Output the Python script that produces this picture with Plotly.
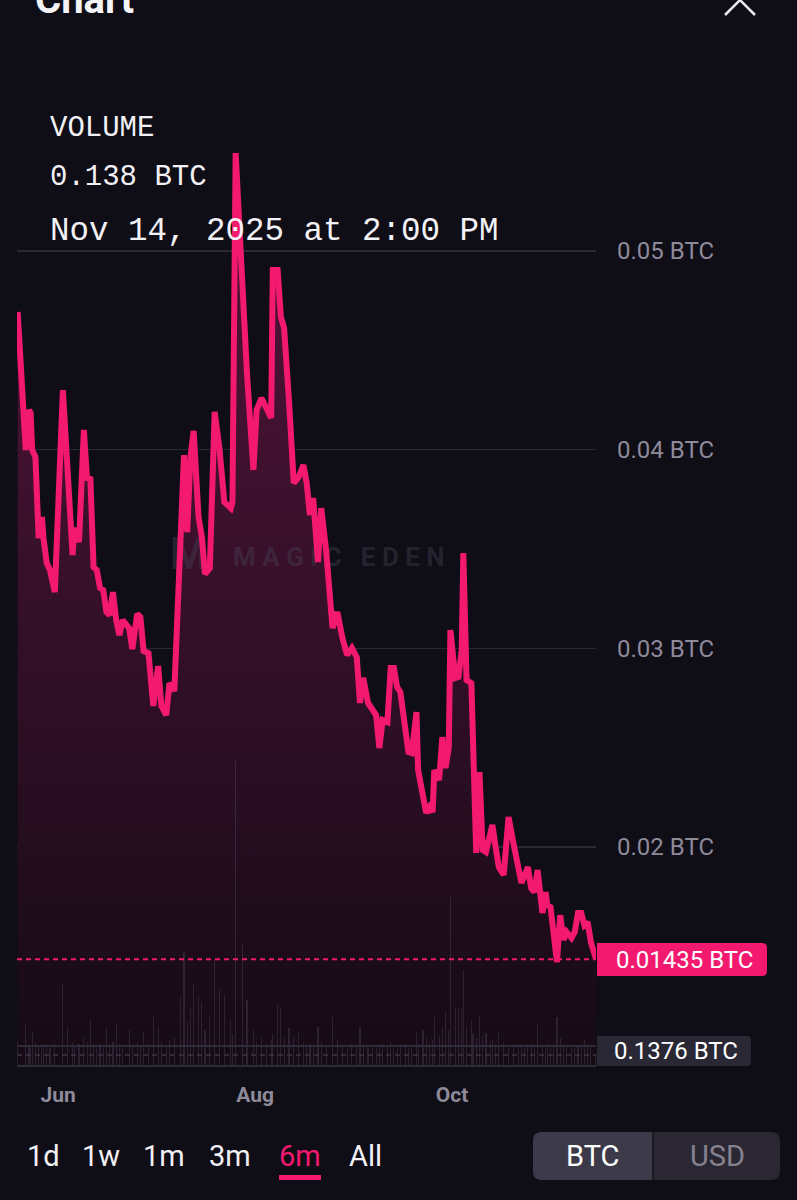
import plotly.graph_objects as go
import pandas as pd

# ---------------- data ----------------
dates = [
    "2025-05-19 12:00", "2025-05-22 00:00", "2025-05-23 00:00", "2025-05-23 12:00", "2025-05-24 00:00",
    "2025-05-25 00:00", "2025-05-26 00:00", "2025-05-27 00:00", "2025-05-27 12:00", "2025-05-28 12:00",
    "2025-05-29 12:00", "2025-05-31 00:00", "2025-06-02 12:00", "2025-06-04 00:00", "2025-06-05 12:00",
    "2025-06-06 00:00", "2025-06-07 12:00", "2025-06-09 00:00", "2025-06-10 00:00", "2025-06-11 00:00",
    "2025-06-12 00:00", "2025-06-13 00:00", "2025-06-14 00:00", "2025-06-15 00:00", "2025-06-16 00:00",
    "2025-06-17 00:00", "2025-06-18 00:00", "2025-06-19 00:00", "2025-06-20 00:00", "2025-06-21 00:00",
    "2025-06-23 00:00", "2025-06-24 00:00", "2025-06-25 12:00", "2025-06-26 12:00", "2025-06-27 12:00",
    "2025-06-29 00:00", "2025-06-30 12:00", "2025-07-02 00:00", "2025-07-03 00:00", "2025-07-04 12:00",
    "2025-07-05 12:00", "2025-07-07 00:00", "2025-07-09 00:00", "2025-07-10 00:00", "2025-07-11 00:00",
    "2025-07-12 00:00", "2025-07-13 00:00", "2025-07-14 12:00", "2025-07-15 12:00", "2025-07-16 12:00",
    "2025-07-18 00:00", "2025-07-19 12:00", "2025-07-21 00:00", "2025-07-22 12:00", "2025-07-24 12:00",
    "2025-07-25 00:00", "2025-07-26 00:00", "2025-07-28 00:00", "2025-07-29 12:00", "2025-07-31 12:00",
    "2025-08-01 12:00", "2025-08-03 00:00", "2025-08-04 12:00", "2025-08-06 00:00", "2025-08-06 12:00",
    "2025-08-08 00:00", "2025-08-09 00:00", "2025-08-10 00:00", "2025-08-11 12:00", "2025-08-13 00:00",
    "2025-08-14 12:00", "2025-08-16 00:00", "2025-08-17 00:00", "2025-08-18 00:00", "2025-08-19 00:00",
    "2025-08-20 12:00", "2025-08-21 12:00", "2025-08-23 00:00", "2025-08-25 00:00", "2025-08-26 12:00",
    "2025-08-28 00:00", "2025-08-29 12:00", "2025-08-31 00:00", "2025-09-01 12:00", "2025-09-02 12:00",
    "2025-09-03 12:00", "2025-09-05 00:00", "2025-09-06 12:00", "2025-09-07 12:00", "2025-09-08 12:00",
    "2025-09-09 12:00", "2025-09-11 00:00", "2025-09-12 00:00", "2025-09-13 00:00", "2025-09-14 00:00",
    "2025-09-15 00:00", "2025-09-16 12:00", "2025-09-17 12:00", "2025-09-18 12:00", "2025-09-20 00:00",
    "2025-09-20 12:00", "2025-09-22 00:00", "2025-09-23 00:00", "2025-09-24 00:00", "2025-09-25 00:00",
    "2025-09-25 12:00", "2025-09-27 00:00", "2025-09-28 00:00", "2025-09-29 00:00", "2025-09-30 00:00",
    "2025-09-30 12:00", "2025-10-02 00:00", "2025-10-03 00:00", "2025-10-04 00:00", "2025-10-04 12:00",
    "2025-10-05 12:00", "2025-10-07 00:00", "2025-10-07 12:00", "2025-10-08 12:00", "2025-10-09 12:00",
    "2025-10-10 12:00", "2025-10-11 12:00", "2025-10-13 00:00", "2025-10-13 12:00", "2025-10-14 12:00",
    "2025-10-15 12:00", "2025-10-17 00:00", "2025-10-18 12:00", "2025-10-20 00:00", "2025-10-21 12:00",
    "2025-10-22 12:00", "2025-10-23 12:00", "2025-10-24 12:00", "2025-10-25 12:00", "2025-10-26 12:00",
    "2025-10-27 12:00", "2025-10-29 00:00", "2025-10-30 00:00", "2025-10-30 12:00", "2025-10-31 12:00",
    "2025-11-01 12:00", "2025-11-02 12:00", "2025-11-03 12:00", "2025-11-04 12:00", "2025-11-05 12:00",
    "2025-11-07 00:00", "2025-11-08 00:00", "2025-11-09 00:00", "2025-11-10 00:00", "2025-11-11 00:00",
    "2025-11-12 00:00", "2025-11-13 00:00", "2025-11-14 14:00",
]

floor_btc = [
    0.04693, 0.03998, 0.04200, 0.04184, 0.03998, 0.03963, 0.03555, 0.03661, 0.03555, 0.03429,
    0.03394, 0.03283, 0.04300, 0.03837, 0.03470, 0.03606, 0.03535, 0.04099, 0.03847, 0.03862,
    0.03409, 0.03394, 0.03304, 0.03293, 0.03183, 0.03168, 0.03283, 0.03142, 0.03067, 0.03142,
    0.03102, 0.02996, 0.03173, 0.03158, 0.02986, 0.02976, 0.02710, 0.02911, 0.02710, 0.02664,
    0.02825, 0.02785, 0.03585, 0.03973, 0.03585, 0.03963, 0.04094, 0.03661, 0.03565, 0.03374,
    0.03404, 0.04190, 0.04003, 0.03736, 0.03706, 0.03736, 0.05493, 0.04839, 0.04386, 0.03898,
    0.04200, 0.04260, 0.04200, 0.04159, 0.04904, 0.04904, 0.04668, 0.04612, 0.04250, 0.03832,
    0.03862, 0.03923, 0.03832, 0.03671, 0.03757, 0.03434, 0.03706, 0.03495, 0.03102, 0.03183,
    0.03057, 0.02966, 0.03002, 0.02956, 0.02725, 0.02851, 0.02725, 0.02679, 0.02664, 0.02498,
    0.02639, 0.02629, 0.02901, 0.02901, 0.02805, 0.02780, 0.02574, 0.02478, 0.02473, 0.02679,
    0.02387, 0.02272, 0.02171, 0.02201, 0.02176, 0.02387, 0.02337, 0.02553, 0.02397, 0.02503,
    0.03092, 0.02851, 0.02856, 0.02991, 0.03480, 0.02840, 0.02825, 0.02538, 0.01970, 0.02377,
    0.01985, 0.01975, 0.02070, 0.02111, 0.02000, 0.01899, 0.01859, 0.02151, 0.02020, 0.01899,
    0.01819, 0.01859, 0.01899, 0.01793, 0.01773, 0.01884, 0.01668, 0.01773, 0.01708, 0.01698,
    0.01567, 0.01421, 0.01657, 0.01532, 0.01572, 0.01542, 0.01572, 0.01668, 0.01668, 0.01607,
    0.01622, 0.01521, 0.01435,
]

volume_btc = [
    0.30, 0.54, 0.25, 0.22, 0.41, 0.30, 0.24, 0.28, 0.22, 0.26,
    0.23, 0.27, 1.04, 0.49, 0.30, 0.25, 0.28, 0.35, 0.30, 0.58,
    0.26, 0.22, 0.28, 0.25, 0.49, 0.24, 0.30, 0.54, 0.27, 0.24,
    0.45, 0.26, 0.30, 0.25, 0.41, 0.28, 0.61, 0.49, 0.30, 0.26,
    0.33, 0.35, 0.86, 1.42, 0.55, 0.74, 1.01, 0.86, 0.80, 0.45,
    0.61, 1.33, 0.95, 0.89, 0.58, 0.40, 3.83, 1.54, 0.83, 0.45,
    0.30, 0.35, 0.28, 0.32, 0.40, 0.76, 0.72, 0.35, 0.48, 0.38,
    0.41, 0.30, 0.26, 0.28, 0.24, 0.49, 0.30, 0.26, 0.61, 0.33,
    0.25, 0.22, 0.27, 0.24, 0.49, 0.28, 0.23, 0.26, 0.22, 0.25,
    0.28, 0.24, 0.30, 0.26, 0.22, 0.25, 0.27, 0.23, 0.26, 0.41,
    0.28, 0.45, 0.35, 0.30, 0.33, 0.61, 0.38, 0.49, 0.68, 0.45,
    2.11, 0.74, 0.72, 0.72, 1.20, 0.50, 0.58, 0.40, 0.35, 0.64,
    0.38, 0.41, 0.30, 0.33, 0.28, 0.41, 0.30, 0.26, 0.28, 0.24,
    0.27, 0.23, 0.25, 0.28, 0.24, 0.54, 0.26, 0.23, 0.27, 0.22,
    0.25, 0.61, 0.35, 0.24, 0.22, 0.26, 0.23, 0.25, 0.22, 0.33,
    0.24, 0.22, 0.138,
]

y_ticks = [0.02, 0.03, 0.04, 0.05]
y_tick_labels = ["0.02 BTC", "0.03 BTC", "0.04 BTC", "0.05 BTC"]
x_ticks = ["2025-06-01", "2025-08-01", "2025-10-01"]
x_tick_labels = ["Jun", "Aug", "Oct"]
last_price = 0.01435
last_volume = 0.1376
header_volume = 0.138
header_time = "Nov 14, 2025 at 2:00 PM"
range_buttons = ["1d", "1w", "1m", "3m", "6m", "All"]
active_range = "6m"
currencies = ["BTC", "USD"]

# ---------------- layout constants ----------------
W, H = 797, 1200
L, R, T, B = 17, 596, 100, 1066
BG = "#0f0d16"
PINK = "#f2196f"
GRID = "#2a2835"
LABEL = "#8e8a9a"
WHITE = "#f2f1f5"

YMIN, YMAX = 0.008977, 0.05760
VMAX = (B - T) / 80.0
X0 = pd.Timestamp("2025-05-19 07:00")
X1 = pd.Timestamp(dates[-1])


def fx(px):
    return (px - L) / (R - L)


def fy(py):
    return (B - py) / (B - T)


def px2date(px):
    return str(X0 + (X1 - X0) * ((px - L) / (R - L)))


def py2val(py):
    return YMIN + (B - py) / (B - T) * (YMAX - YMIN)


def rrect(x0, y0, x1, y1, r, corners=("tl", "tr", "br", "bl")):
    def P(x, y):
        return f"{fx(x):.5f},{fy(y):.5f}"
    tl, tr, br, bl = [(c in corners) for c in ("tl", "tr", "br", "bl")]
    d = f"M {P(x0 + (r if tl else 0), y0)} L {P(x1 - (r if tr else 0), y0)} "
    if tr:
        d += f"Q {P(x1, y0)} {P(x1, y0 + r)} "
    d += f"L {P(x1, y1 - (r if br else 0))} "
    if br:
        d += f"Q {P(x1, y1)} {P(x1 - r, y1)} "
    d += f"L {P(x0 + (r if bl else 0), y1)} "
    if bl:
        d += f"Q {P(x0, y1)} {P(x0, y1 - r)} "
    d += f"L {P(x0, y0 + (r if tl else 0))} "
    if tl:
        d += f"Q {P(x0, y0)} {P(x0 + r, y0)} "
    return d + "Z"


fig = go.Figure()

# area fill
fig.add_trace(go.Scatter(
    x=dates, y=floor_btc, mode="lines", line=dict(width=0, color=PINK),
    fill="tozeroy",
    fillgradient=dict(type="vertical",
                      colorscale=[[0, "#150b15"], [1, "#55143c"]],
                      start=YMIN, stop=max(floor_btc)),
    hoverinfo="skip", showlegend=False,
))

# watermark (between fill and line)
WM = "rgba(72,70,88,0.38)"
fig.add_trace(go.Scatter(
    x=[px2date(233)], y=[py2val(559)], mode="text", text=["M A G I C   E D E N"],
    textposition="middle right",
    textfont=dict(family="Roboto", size=26, color=WM, weight="bold"),
    hoverinfo="skip", showlegend=False,
))
fig.add_trace(go.Scatter(
    x=[px2date(189)], y=[py2val(558)], mode="text", text=["M"],
    textposition="middle center",
    textfont=dict(family="Roboto", size=44, color=WM, weight="bold"),
    hoverinfo="skip", showlegend=False,
))

# price line
fig.add_trace(go.Scatter(
    x=dates, y=floor_btc, mode="lines",
    line=dict(color=PINK, width=6),
    hoverinfo="skip", showlegend=False,
))

# volume bars
fig.add_trace(go.Bar(
    x=dates, y=volume_btc, yaxis="y2",
    marker=dict(color="rgba(150,140,175,0.18)", line_width=0),
    width=0.35 * 86400000, hoverinfo="skip", showlegend=False,
))

shapes = [
    # current price dotted line
    dict(type="line", xref="paper", x0=0, x1=1, yref="y", y0=last_price, y1=last_price,
         line=dict(color=PINK, width=2, dash="5px,4px")),
    # volume pane lines
    dict(type="line", xref="paper", x0=0, x1=1, yref="paper", y0=fy(1046), y1=fy(1046),
         line=dict(color="#2e2b3a", width=2)),
    dict(type="line", xref="paper", x0=0, x1=1, yref="y2", y0=last_volume, y1=last_volume,
         line=dict(color="#3a3747", width=1.5, dash="5px,4px")),
    dict(type="line", xref="paper", x0=0, x1=1, yref="paper", y0=fy(1066), y1=fy(1066),
         line=dict(color="#2e2b3a", width=2)),
    # price badge
    dict(type="path", xref="paper", yref="paper", path=rrect(597, 943, 767, 976, 5, ("tr", "br")),
         fillcolor=PINK, line=dict(width=0)),
    # volume badge
    dict(type="path", xref="paper", yref="paper", path=rrect(597, 1036, 751, 1066, 4, ("tr", "br")),
         fillcolor="#2b2835", line=dict(width=0)),
    # currency toggle
    dict(type="path", xref="paper", yref="paper", path=rrect(533, 1132, 780, 1180, 9),
         fillcolor="#2a2733", line=dict(width=0)),
    dict(type="path", xref="paper", yref="paper", path=rrect(533, 1132, 652, 1180, 9, ("tl", "bl")),
         fillcolor="#3c3948", line=dict(width=0)),
    dict(type="line", xref="paper", yref="paper", x0=fx(653), x1=fx(653), y0=fy(1132), y1=fy(1180),
         line=dict(color="#1b1922", width=2)),
    # active range underline
    dict(type="rect", xref="paper", yref="paper", x0=fx(279), x1=fx(321), y0=fy(1175), y1=fy(1180),
         fillcolor=PINK, line=dict(width=0)),
    # close icon
    dict(type="line", xref="paper", yref="paper", x0=fx(725), y0=fy(-15), x1=fx(755), y1=fy(15),
         line=dict(color="#ececf0", width=2.5)),
    dict(type="line", xref="paper", yref="paper", x0=fx(755), y0=fy(-15), x1=fx(725), y1=fy(15),
         line=dict(color="#ececf0", width=2.5)),
]

ann = []


def text(px, py, s, size, color=WHITE, family="Roboto", anchor="left", weight="normal"):
    ann.append(dict(xref="paper", yref="paper", x=fx(px), y=fy(py), text=s, showarrow=False,
                    xanchor=anchor, yanchor="middle",
                    font=dict(family=family, size=size, color=color, weight=weight)))


text(33, -1, "Chart", 40, color="#f4f4f6", weight="bold")
text(48, 128, "VOLUME", 29, family="Liberation Mono")
text(48, 177, f"{header_volume:.3f} BTC", 29, family="Liberation Mono")
text(48, 231, header_time, 32.5, family="Liberation Mono")
text(684, 959.5, f"{last_price} BTC", 24, color="#ffffff", anchor="center")
text(676, 1051, f"{last_volume} BTC", 24, color="#ffffff", anchor="center")

btn_x = [43, 101, 164, 230, 300, 365]
for bx, lab in zip(btn_x, range_buttons):
    text(bx, 1156, lab, 29, color=PINK if lab == active_range else WHITE, anchor="center")
text(592, 1156, currencies[0], 29, color="#ffffff", anchor="center")
text(717, 1156, currencies[1], 29, color="#85818f", anchor="center")

fig.update_layout(
    template="none",
    width=W, height=H, autosize=False,
    margin=dict(l=L, r=W - R, t=T, b=H - B, pad=0),
    paper_bgcolor=BG, plot_bgcolor=BG,
    showlegend=False, hovermode=False, bargap=0,
    xaxis=dict(type="date", range=[str(X0), str(X1)], showgrid=False, zeroline=False,
               showline=False, tickvals=x_ticks, ticktext=x_tick_labels, ticks="",
               tickfont=dict(family="Roboto", size=21, color=LABEL, weight="bold"),
               ticklabelstandoff=14, automargin=False, fixedrange=True),
    yaxis=dict(range=[YMIN, YMAX], side="right", showgrid=True, gridcolor=GRID, gridwidth=1.5,
               tickvals=y_ticks, ticktext=y_tick_labels, ticks="",
               tickfont=dict(family="Roboto", size=24, color=LABEL),
               ticklabelstandoff=20, zeroline=False, showline=False, automargin=False,
               fixedrange=True),
    yaxis2=dict(range=[0, VMAX], overlaying="y", visible=False, fixedrange=True),
    shapes=shapes, annotations=ann,
)

fig.write_html(
    "out.html",
    config={"displayModeBar": False, "staticPlot": True},
    post_script="document.body.style.margin='0';document.body.style.background='#0f0d16';",
)
